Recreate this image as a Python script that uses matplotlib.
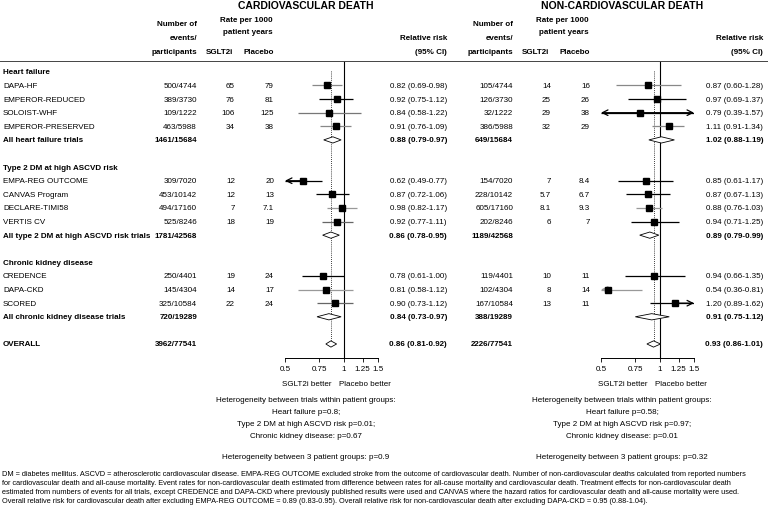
import matplotlib
matplotlib.use("Agg")
import matplotlib.pyplot as plt
from matplotlib.lines import Line2D
from matplotlib.ticker import NullLocator, FixedLocator, FixedFormatter
from matplotlib.transforms import blended_transform_factory

plt.rcParams['font.family'] = ['Liberation Sans', 'DejaVu Sans']

# ---- data ----
row_labels = ['Heart failure', 'DAPA-HF', 'EMPEROR-REDUCED', 'SOLOIST-WHF', 'EMPEROR-PRESERVED',
              'All heart failure trials', '',
              'Type 2 DM at high ASCVD risk', 'EMPA-REG OUTCOME', 'CANVAS Program', 'DECLARE-TIMI58',
              'VERTIS CV', 'All type 2 DM at high ASCVD risk trials', '',
              'Chronic kidney disease', 'CREDENCE', 'DAPA-CKD', 'SCORED',
              'All chronic kidney disease trials', '', 'OVERALL']
bold_rows = [0, 5, 7, 12, 14, 18, 20]
entry_rows = [1, 2, 3, 4, 5, 8, 9, 10, 11, 12, 15, 16, 17, 18, 20]
total_rows = [5, 12, 18, 20]
trial_rows = [1, 2, 3, 4, 8, 9, 10, 11, 15, 16, 17]

cv_events = ['500/4744', '389/3730', '109/1222', '463/5988', '1461/15684',
             '309/7020', '453/10142', '494/17160', '525/8246', '1781/42568',
             '250/4401', '145/4304', '325/10584', '720/19289', '3962/77541']
cv_sglt2 = ['65', '76', '106', '34', '12', '12', '7', '18', '19', '14', '22']
cv_placebo = ['79', '81', '125', '38', '20', '13', '7.1', '19', '24', '17', '24']
cv_rr = [0.82, 0.92, 0.84, 0.91, 0.88, 0.62, 0.87, 0.98, 0.92, 0.86, 0.78, 0.81, 0.90, 0.84, 0.86]
cv_lo = [0.69, 0.75, 0.58, 0.76, 0.79, 0.49, 0.72, 0.82, 0.77, 0.78, 0.61, 0.58, 0.73, 0.73, 0.81]
cv_hi = [0.98, 1.12, 1.22, 1.09, 0.97, 0.77, 1.06, 1.17, 1.11, 0.95, 1.00, 1.12, 1.12, 0.97, 0.92]
cv_line_colors = ['#888888', 'black', '#777777', '#888888', 'black', 'black', '#999999',
                  '#666666', 'black', '#999999', '#666666']

ncv_events = ['105/4744', '126/3730', '32/1222', '386/5988', '649/15684',
              '154/7020', '228/10142', '605/17160', '202/8246', '1189/42568',
              '119/4401', '102/4304', '167/10584', '388/19289', '2226/77541']
ncv_sglt2 = ['14', '25', '29', '32', '7', '5.7', '8.1', '6', '10', '8', '13']
ncv_placebo = ['16', '26', '38', '29', '8.4', '6.7', '9.3', '7', '11', '14', '11']
ncv_rr = [0.87, 0.97, 0.79, 1.11, 1.02, 0.85, 0.87, 0.88, 0.94, 0.89, 0.94, 0.54, 1.20, 0.91, 0.93]
ncv_lo = [0.60, 0.69, 0.39, 0.91, 0.88, 0.61, 0.67, 0.76, 0.71, 0.79, 0.66, 0.36, 0.89, 0.75, 0.86]
ncv_hi = [1.28, 1.37, 1.57, 1.34, 1.19, 1.17, 1.13, 1.03, 1.25, 0.99, 1.35, 0.81, 1.62, 1.12, 1.01]
ncv_line_colors = ['#888888', 'black', 'black', '#888888', 'black', 'black', '#999999',
                   'black', 'black', '#999999', 'black']

xticks = [0.5, 0.75, 1, 1.25, 1.5]
xtick_labels = ['0.5', '0.75', '1', '1.25', '1.5']

cv_het = ['Heterogeneity between trials within patient groups:', 'Heart failure p=0.8;',
          'Type 2 DM at high ASCVD risk p=0.01;', 'Chronic kidney disease: p=0.67', '',
          'Heterogeneity between 3 patient groups: p=0.9']
ncv_het = ['Heterogeneity between trials within patient groups:', 'Heart failure p=0.58;',
           'Type 2 DM at high ASCVD risk p=0.97;', 'Chronic kidney disease: p=0.01', '',
           'Heterogeneity between 3 patient groups: p=0.32']

footnote = [
    "DM = diabetes mellitus. ASCVD = atherosclerotic cardiovascular disease. EMPA-REG OUTCOME excluded stroke from the outcome of cardiovascular death. Number of non-cardiovascular deaths calculated from reported numbers",
    "for cardiovascular death and all-cause mortality. Event rates for non-cardiovascular death estimated from difference between rates for all-cause mortality and cardiovascular death. Treatment effects for non-cardiovascular death",
    "estimated from numbers of events for all trials, except CREDENCE and DAPA-CKD where previously published results were used and CANVAS where the hazard ratios for cardiovascular death and all-cause mortality were used.",
    "Overall relative risk for cardiovascular death after excluding EMPA-REG OUTCOME = 0.89 (0.83-0.95). Overall relative risk for non-cardiovascular death after excluding DAPA-CKD = 0.95 (0.88-1.04).",
]

W, H = 768, 506
fig = plt.figure(figsize=(W / 100, H / 100), dpi=100)


def fx(p):
    return p / W


def fy(p):
    return 1 - p / H


narrow = ['Liberation Sans Narrow', 'Liberation Sans']
fs = 5.8


def panel(x0, title, events, sglt2, placebo, rr, lo, hi, line_colors, het, draw_labels):
    # x0 = horizontal shift in pixels for this panel
    ax = fig.add_axes([fx(285 + x0), fy(359), fx(93), (359 - 62) / H])
    ax.set_xscale('log')
    ax.set_xlim(0.5, 1.5)
    ax.set_ylim(21.03, -0.8)
    ax.xaxis.set_minor_locator(NullLocator())
    ax.xaxis.set_major_locator(FixedLocator(xticks))
    ax.xaxis.set_major_formatter(FixedFormatter(xtick_labels))
    ax.tick_params(axis='x', labelsize=fs, length=3, width=0.6, pad=2)
    ax.set_yticks([])
    for s in ['left', 'right', 'top']:
        ax.spines[s].set_visible(False)
    ax.spines['bottom'].set_linewidth(0.7)
    ax.patch.set_alpha(0)

    ax.axvline(1, color='black', lw=0.8)
    ax.vlines(rr[-1], -0.1, 20, colors='black', lw=0.6, linestyles=(0, (1, 1.5)))

    ti = 0
    for i, r in enumerate(entry_rows):
        if r in total_rows:
            ax.fill([lo[i], rr[i], hi[i], rr[i]], [r, r - 0.23, r, r + 0.23],
                    facecolor='white', edgecolor='black', lw=0.6, zorder=3)
        else:
            c = line_colors[ti]
            ti += 1
            a, b = max(lo[i], 0.5), min(hi[i], 1.5)
            ax.plot([a, b], [r, r], color=c, lw=0.9, solid_capstyle='butt')
            if lo[i] < 0.5:
                ax.annotate('', xy=(0.5, r), xytext=(rr[i], r),
                            arrowprops=dict(arrowstyle='->,head_length=0.4,head_width=0.2',
                                            color=c, lw=0.9, shrinkA=0, shrinkB=0))
            if hi[i] > 1.5:
                ax.annotate('', xy=(1.5, r), xytext=(rr[i], r),
                            arrowprops=dict(arrowstyle='->,head_length=0.4,head_width=0.2',
                                            color=c, lw=0.9, shrinkA=0, shrinkB=0))
            ax.plot(rr[i], r, 's', color='black', ms=4.3, zorder=4)

    tr = blended_transform_factory(fig.transFigure, ax.transData)
    if draw_labels:
        for r, lab in enumerate(row_labels):
            fig.text(fx(3), r, lab, transform=tr, ha='left', va='center', fontsize=fs,
                     fontweight='bold' if r in bold_rows else 'normal')
    ti = 0
    for i, r in enumerate(entry_rows):
        bold = 'bold' if r in total_rows else 'normal'
        fig.text(fx(197 + x0), r, events[i], transform=tr, ha='right', va='center',
                 fontsize=fs, fontweight=bold)
        fig.text(fx(447 + x0), r, f"{rr[i]:.2f} ({lo[i]:.2f}-{hi[i]:.2f})", transform=tr,
                 ha='right', va='center', fontsize=fs, fontweight=bold)
        if r in trial_rows:
            fig.text(fx(235 + x0), r, sglt2[ti], transform=tr, ha='right', va='center', fontsize=fs)
            fig.text(fx(274 + x0), r, placebo[ti], transform=tr, ha='right', va='center', fontsize=fs)
            ti += 1

    # column headers
    fig.text(fx(306 + x0), fy(6), title, ha='center', va='center', fontsize=7.5, fontweight='bold')
    for txt, yy in [('Number of', 25), ('events/', 38), ('participants', 52)]:
        fig.text(fx(197 + x0), fy(yy), txt, ha='right', va='center', fontsize=fs, fontweight='bold')
    fig.text(fx(273 + x0), fy(20), 'Rate per 1000', ha='right', va='center', fontsize=fs, fontweight='bold')
    fig.text(fx(273 + x0), fy(32), 'patient years', ha='right', va='center', fontsize=fs, fontweight='bold')
    fig.text(fx(233 + x0), fy(52), 'SGLT2i', ha='right', va='center', fontsize=fs, fontweight='bold')
    fig.text(fx(274 + x0), fy(52), 'Placebo', ha='right', va='center', fontsize=fs, fontweight='bold')
    fig.text(fx(447 + x0), fy(38), 'Relative risk', ha='right', va='center', fontsize=fs, fontweight='bold')
    fig.text(fx(447 + x0), fy(52), '(95% CI)', ha='right', va='center', fontsize=fs, fontweight='bold')

    fig.text(fx(331 + x0), fy(385), 'SGLT2i better', ha='right', va='center', fontsize=fs)
    fig.text(fx(339 + x0), fy(385), 'Placebo better', ha='left', va='center', fontsize=fs)

    for k, line in enumerate(het):
        yy = 401 + 12 * k if k < 4 else 458
        fig.text(fx(306 + x0), fy(yy), line, ha='center', va='center', fontsize=5.8, family=narrow)
    return ax


panel(0, 'CARDIOVASCULAR DEATH', cv_events, cv_sglt2, cv_placebo, cv_rr, cv_lo, cv_hi,
      cv_line_colors, cv_het, True)
panel(316, 'NON-CARDIOVASCULAR DEATH', ncv_events, ncv_sglt2, ncv_placebo, ncv_rr, ncv_lo, ncv_hi,
      ncv_line_colors, ncv_het, False)

fig.add_artist(Line2D([0, 1], [fy(62), fy(62)], transform=fig.transFigure, color='#444444', lw=0.7))

for k, line in enumerate(footnote):
    fig.text(fx(2), fy(475 + 9 * k), line, ha='left', va='center', fontsize=5.33, family=narrow)

fig.savefig('out.png', dpi=100, facecolor='white')
